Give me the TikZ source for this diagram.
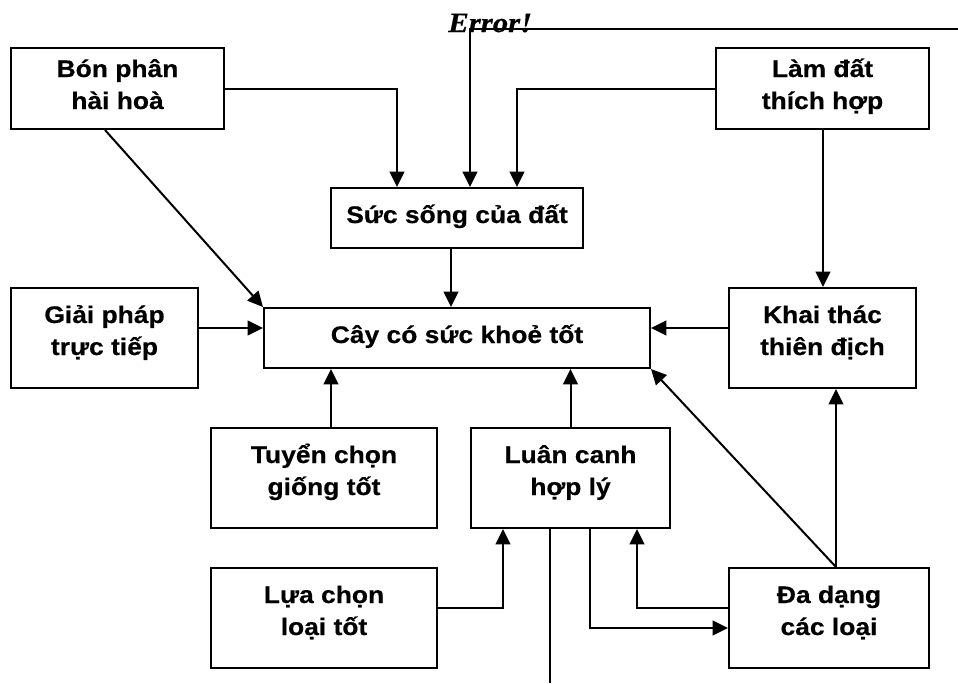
\documentclass[tikz,border=0pt]{standalone}
\usepackage{fontspec}
\newfontfamily\boxfont{Liberation Sans}[FakeStretch=1.1, BoldFeatures={FakeBold=0.5}]
\newfontfamily\errfont{Liberation Serif}[FakeStretch=1.1, BoldItalicFeatures={FakeBold=0.5}]
\usetikzlibrary{arrows.meta}
\newcommand\twol[2]{\vtop{\baselineskip=24pt\lineskiplimit=-\maxdimen\halign{\hfil##\hfil\cr #1\cr #2\cr}}}
\begin{document}
\begin{tikzpicture}[x=0.75pt,y=-0.75pt,
  box/.style={draw, line width=1.5pt, inner sep=0pt,
    font=\boxfont\bfseries\fontsize{18pt}{24pt}\selectfont},
  two/.style={text height=0pt, text depth=22.5pt},
  twos/.style={text height=0pt, text depth=17.25pt},
  one/.style={text height=7.5pt, text depth=0pt},
  sz/.style 2 args={minimum width=#1*0.75pt, minimum height=#2*0.75pt},
  arr/.style={line width=1.5pt, -{Triangle[length=11.5pt,width=11pt]}},
  ln/.style={line width=1.5pt}]
\fill[white] (0,0) rectangle (958,683);
\useasboundingbox (0,0) rectangle (958,683);

% boxes
\node[box, twos, sz={213}{81}] (bon) at (117.5,88.5) {\twol{Bón phân}{hài hoà}};
\node[box, twos, sz={213}{81}] (lam) at (822.5,88.5) {\twol{Làm đất}{thích hợp}};
\node[box, one, sz={252}{60}] (suc) at (457,218) {Sức sống của đất};
\node[box, one, sz={386}{60}] (cay) at (457,338) {Cây có sức khoẻ tốt};
\node[box, two, sz={187}{100}] (giai) at (104.5,338) {\twol{Giải pháp}{trực tiếp}};
\node[box, two, sz={187}{100}] (khai) at (822.5,338) {\twol{Khai thác}{thiên địch}};
\node[box, two, sz={226}{100}] (tuyen) at (324,478) {\twol{Tuyển chọn}{giống tốt}};
\node[box, two, sz={199}{100}] (luan) at (570.5,478) {\twol{Luân canh}{hợp lý}};
\node[box, two, sz={226}{100}] (lua) at (324,618) {\twol{Lựa chọn}{loại tốt}};
\node[box, two, sz={200}{100}] (da) at (829,618) {\twol{Đa dạng}{các loại}};

\node[font=\errfont\bfseries\itshape\fontsize{21pt}{22pt}\selectfont,
  anchor=base west, inner sep=0pt] (err) at (448,32) {Error!};

\coordinate (errR) at (958,29);
\coordinate (bot) at (550,683);

% connectors
\draw[arr] (errR) -| (470,0 |- suc.north);
\draw[arr] (bon.east) -| (397,0 |- suc.north);
\draw[arr] (lam.west) -| (517,0 |- suc.north);
\draw[arr] (451,0 |- suc.south) -- (451,0 |- cay.north);
\draw[arr] (105,0 |- bon.south) -- (cay.north west);
\draw[arr] (giai.east |- 0,328) -- (cay.west |- 0,328);
\draw[arr] (khai.west |- 0,328) -- (cay.east |- 0,328);
\draw[arr] (823,0 |- lam.south) -- (823,0 |- khai.north);
\draw[arr] (331,0 |- tuyen.north) -- (331,0 |- cay.south);
\draw[arr] (luan.north) -- (luan.north |- cay.south);
\draw[arr] (836,0 |- da.north) -- (836,0 |- khai.south);
\draw[arr] (836,0 |- da.north) -- (cay.south east);
\draw[arr] (lua.east |- 0,608) -| (503,0 |- luan.south);
\draw[arr] (590,0 |- luan.south) |- (da.west |- 0,628);
\draw[arr] (da.west |- 0,608) -| (637,0 |- luan.south);
\draw[ln] (550,0 |- luan.south) -- (bot);
\end{tikzpicture}
\end{document}
